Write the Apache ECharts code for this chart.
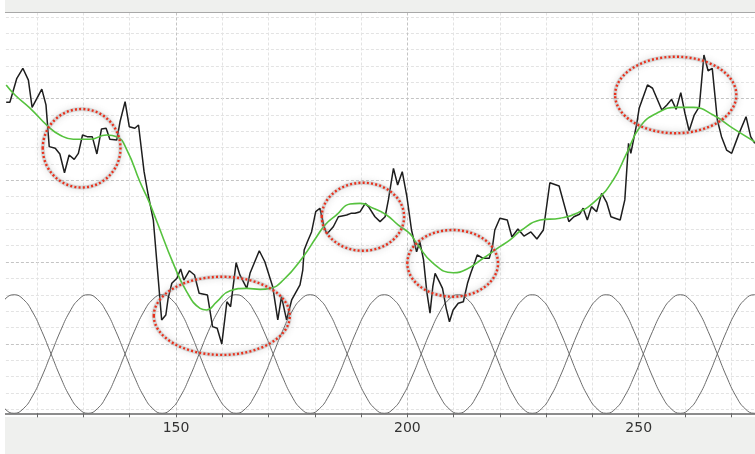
<!DOCTYPE html>
<html>
<head>
<meta charset="utf-8">
<script src="https://cdn.jsdelivr.net/npm/echarts@6/dist/echarts.min.js"></script>
<style>
html, body { margin: 0; padding: 0; background: #ffffff; }
#chart { width: 755px; height: 454px; }
</style>
</head>
<body>
<div id="chart"></div>
<script>
// Labelled ticks on the horizontal axis
const xLabels = [150, 200, 250];

// Raw signal (black trace): [x, value]
const signal = [
  [113.3,19.77],[114.1,19.77],[115.6,21.24],[116.9,21.85],[118.1,21.13],[118.9,19.46],[121.0,20.58],[121.9,19.61],
  [122.6,17.06],[123.9,16.96],[124.9,16.61],[125.9,15.46],[126.9,16.55],[128.0,16.28],[128.9,16.65],[129.8,17.77],
  [130.8,17.67],[131.9,17.67],[132.9,16.61],[133.9,18.14],[134.9,18.18],[135.7,17.51],[137.2,17.46],[137.9,18.58],
  [139.0,19.81],[139.9,18.28],[141.1,18.18],[141.9,18.38],[143.1,15.53],[144.0,14.10],[145.1,12.57],[146.9,6.46],
  [147.8,6.76],[148.3,7.78],[149.1,8.70],[150.2,9.01],[151.0,9.57],[151.7,8.90],[152.9,9.47],[154.0,9.21],
  [155.0,8.09],[156.8,7.98],[157.9,6.05],[158.9,5.95],[159.9,4.99],[161.0,7.57],[161.8,7.27],[163.0,9.96],
  [163.8,9.21],[165.3,8.39],[166.0,9.31],[168.0,10.69],[169.2,10.02],[170.9,8.49],[172.0,6.46],[172.8,7.88],
  [173.9,6.46],[175.0,7.68],[176.8,8.60],[177.4,9.51],[177.7,10.74],[178.4,11.24],[179.3,11.84],[180.2,13.08],
  [181.1,13.29],[182.0,12.16],[182.6,11.72],[184.0,12.16],[185.1,12.77],[186.9,12.88],[187.8,12.98],[188.7,12.98],
  [189.8,13.08],[190.9,13.59],[191.6,13.39],[193.0,12.77],[194.1,12.47],[195.2,12.77],[195.9,13.80],[197.0,15.73],
  [197.9,14.71],[198.9,15.53],[199.9,14.00],[200.9,11.96],[202.0,10.63],[202.7,11.24],[203.5,10.13],[204.2,8.19],
  [204.9,6.87],[205.5,8.49],[206.0,9.31],[206.9,8.80],[207.6,8.39],[208.4,7.17],[209.1,6.35],[209.9,7.07],
  [211.0,7.48],[212.1,7.57],[213.0,8.70],[213.7,9.31],[214.6,10.02],[215.1,10.43],[216.4,10.23],[217.7,10.23],
  [218.4,10.94],[218.9,11.96],[220.0,12.68],[221.6,12.57],[222.6,11.53],[223.9,12.02],[225.2,11.59],[226.7,11.84],
  [228.0,11.41],[229.4,11.96],[230.8,14.85],[232.8,14.65],[234.9,12.47],[236.0,12.77],[237.2,12.92],[238.0,13.29],
  [238.9,12.57],[239.8,13.39],[240.9,13.08],[242.0,14.20],[243.1,13.63],[244.0,12.77],[244.9,12.68],[246.0,12.57],
  [247.0,13.80],[247.8,17.26],[248.3,16.65],[249.6,18.49],[250.1,19.40],[251.9,20.83],[253.0,20.63],[255.0,19.30],
  [256.1,19.61],[257.1,19.95],[258.1,19.34],[259.1,20.36],[260.0,19.10],[260.9,18.03],[262.0,18.99],[263.1,19.50],
  [264.1,22.66],[265.0,21.70],[265.9,21.85],[267.0,18.69],[267.9,17.67],[269.0,16.85],[270.1,16.65],[271.7,17.87],
  [273.2,18.89],[274.2,17.67],[275.1,17.26]
];

// Smoothed trend (green curve): [x, value]
const trend = [
  [113.3,20.83],[115.2,20.22],[118.5,19.40],[122.4,18.28],[124.9,17.77],[127.8,17.51],[131.4,17.51],[135.0,17.77],
  [137.2,17.67],[139.4,16.85],[142.2,14.91],[144.0,13.80],[145.9,12.45],[149.4,9.92],[152.3,8.19],[155.2,7.17],
  [156.6,7.07],[158.8,7.57],[161.7,8.25],[165.3,8.39],[168.2,8.33],[170.3,8.39],[173.2,8.90],[177.5,10.33],
  [180.4,11.55],[182.4,12.33],[184.7,12.88],[187.6,13.55],[189.8,13.59],[192.6,13.29],[195.5,12.88],[198.0,12.27],
  [200.6,11.72],[202.0,11.15],[205.6,9.92],[209.9,9.35],[212.8,9.56],[216.4,10.23],[220.0,10.94],[222.2,11.35],
  [224.7,11.96],[228.7,12.57],[233.0,12.68],[236.6,12.98],[240.9,13.80],[244.5,15.02],[247.4,16.65],[250.3,18.28],
  [253.9,19.10],[258.2,19.46],[261.8,19.46],[266.1,18.99],[270.4,18.18],[275.1,17.36]
];

// Two periodic window curves sampled on a shared x grid (step 2)
const waveX = [
  111,113,115,117,119,121,123,125,127,129,131,133,135,137,139,141,143,145,147,149,151,153,155,157,159,161,163,165,167,169,
  171,173,175,177,179,181,183,185,187,189,191,193,195,197,199,201,203,205,207,209,211,213,215,217,219,221,223,225,227,229,
  231,233,235,237,239,241,243,245,247,249,251,253,255,257,259,261,263,265,267,269,271,273,275,277,279
];
const waveA = [
  6.94,7.72,
  8.00,7.72,6.94,5.76,4.38,2.99,1.81,1.03,0.75,1.03,1.81,2.99,4.38,5.76,6.94,7.72,
  8.00,7.72,6.94,5.76,4.38,2.99,1.81,1.03,0.75,1.03,1.81,2.99,4.38,5.76,6.94,7.72,
  8.00,7.72,6.94,5.76,4.38,2.99,1.81,1.03,0.75,1.03,1.81,2.99,4.38,5.76,6.94,7.72,
  8.00,7.72,6.94,5.76,4.38,2.99,1.81,1.03,0.75,1.03,1.81,2.99,4.38,5.76,6.94,7.72,
  8.00,7.72,6.94,5.76,4.38,2.99,1.81,1.03,0.75,1.03,1.81,2.99,4.38,5.76,6.94,7.72,
  8.00,7.72,6.94
];
const waveB = [
  1.81,1.03,
  0.75,1.03,1.81,2.99,4.38,5.76,6.94,7.72,8.00,7.72,6.94,5.76,4.38,2.99,1.81,1.03,
  0.75,1.03,1.81,2.99,4.38,5.76,6.94,7.72,8.00,7.72,6.94,5.76,4.38,2.99,1.81,1.03,
  0.75,1.03,1.81,2.99,4.38,5.76,6.94,7.72,8.00,7.72,6.94,5.76,4.38,2.99,1.81,1.03,
  0.75,1.03,1.81,2.99,4.38,5.76,6.94,7.72,8.00,7.72,6.94,5.76,4.38,2.99,1.81,1.03,
  0.75,1.03,1.81,2.99,4.38,5.76,6.94,7.72,8.00,7.72,6.94,5.76,4.38,2.99,1.81,1.03,
  0.75,1.03,1.81
];

// Highlighted regions: [centre x, centre value, radius x, radius value]
const highlights = [
  [129.6, 16.96, 8.4, 2.40],
  [159.9, 6.71, 14.7, 2.39],
  [190.4, 12.77, 8.9, 2.08],
  [209.8, 9.92, 9.8, 2.04],
  [258.0, 20.22, 13.1, 2.34]
];

// Horizontal grid levels (every unit, stronger every fifth)
const gridLevels = [1,2,3,4,5,6,7,8,9,10,11,12,13,14,15,16,17,18,19,20,21,22,23,24,25];
const strongLevels = [5, 10, 15, 20];

const X_MIN = 110, X_MAX = 280, X_STEP = 10;
const MAJOR = '#c4c4c4', MINOR = '#e3e3e3';

const xTickColors = [];
for (let v = X_MIN; v <= X_MAX; v += X_STEP) xTickColors.push(xLabels.includes(v) ? MAJOR : MINOR);
const yTickColors = gridLevels.map(v => strongLevels.includes(v) ? MAJOR : MINOR);

const zip = (xs, ys) => xs.map((x, i) => [x, ys[i]]);

const chart = echarts.init(document.getElementById('chart'), null, { renderer: 'canvas' });

chart.setOption({
  animation: false,
  backgroundColor: '#ffffff',
  grid: [
    { left: -9.08, right: -22.5, top: 12.5, bottom: 40.7, containLabel: false, outerBoundsMode: 'none' },
    { left: -9.08, right: -22.5, top: 16.8, bottom: 44.8, containLabel: false, outerBoundsMode: 'none' }
  ],
  xAxis: [
    {
      type: 'value', gridIndex: 0, min: X_MIN, max: X_MAX, interval: X_STEP,
      axisLine: { show: true, lineStyle: { color: '#666666', width: 1.5 } },
      axisTick: { show: true, length: 4, lineStyle: { color: '#666666', width: 1 } },
      axisLabel: {
        margin: 8, color: '#333333', fontSize: 14, fontFamily: 'DejaVu Sans',
        formatter: v => xLabels.includes(v) ? String(v) : ''
      },
      splitLine: { show: true, lineStyle: { color: xTickColors, width: 1, type: [3, 2] } }
    },
    { type: 'value', gridIndex: 1, min: X_MIN, max: X_MAX, show: false }
  ],
  yAxis: [
    { type: 'value', gridIndex: 0, min: 0.749, max: 25.263, show: false, splitLine: { show: false } },
    {
      type: 'value', gridIndex: 1, min: 1, max: 25, interval: 1,
      axisLine: { show: false }, axisTick: { show: false }, axisLabel: { show: false },
      splitLine: { show: true, lineStyle: { color: yTickColors, width: 1, type: [3, 2] } }
    }
  ],
  series: [
    {
      type: 'line', name: 'windowA', data: zip(waveX, waveA), smooth: true, showSymbol: false,
      lineStyle: { color: '#6a6a6a', width: 1 }, z: 2
    },
    {
      type: 'line', name: 'windowB', data: zip(waveX, waveB), smooth: true, showSymbol: false,
      lineStyle: { color: '#6a6a6a', width: 1 }, z: 2
    },
    {
      type: 'line', name: 'signal', data: signal, showSymbol: false,
      lineStyle: { color: '#1e1e1e', width: 1.5 }, z: 3
    },
    {
      type: 'line', name: 'trend', data: trend, smooth: true, showSymbol: false,
      lineStyle: { color: '#56c23e', width: 1.6 }, z: 4
    },
    {
      type: 'custom', name: 'highlights', data: highlights, clip: false, z: 6,
      encode: { x: 0, y: 1 },
      renderItem: function (params, api) {
        const c = api.coord([api.value(0), api.value(1)]);
        const s = api.size([api.value(2), api.value(3)]);
        const shape = { cx: c[0], cy: c[1], rx: s[0], ry: s[1] };
        return {
          type: 'group',
          children: [
            {
              type: 'ellipse', shape: shape,
              style: { fill: 'none', stroke: 'rgba(160,160,160,0.35)', lineWidth: 4,
                       shadowBlur: 6, shadowColor: 'rgba(110,110,110,0.6)' }
            },
            {
              type: 'ellipse', shape: shape,
              style: { fill: 'none', stroke: '#e8301c', lineWidth: 2.4, lineDash: [2, 2.2] }
            }
          ]
        };
      }
    }
  ],
  graphic: [
    { type: 'rect', z: -10, silent: true, shape: { x: 0, y: 0, width: 755, height: 12 }, style: { fill: '#eff0ee' } },
    { type: 'line', z: 10, silent: true, shape: { x1: 0, y1: 12.5, x2: 755, y2: 12.5 }, style: { stroke: '#a8a8a8', lineWidth: 1 } },
    { type: 'rect', z: -10, silent: true, shape: { x: 0, y: 417, width: 755, height: 37 }, style: { fill: '#eff0ee' } },
    { type: 'rect', z: 100, silent: true, shape: { x: 0, y: 0, width: 5, height: 454 }, style: { fill: '#ffffff' } }
  ]
});
</script>
</body>
</html>
